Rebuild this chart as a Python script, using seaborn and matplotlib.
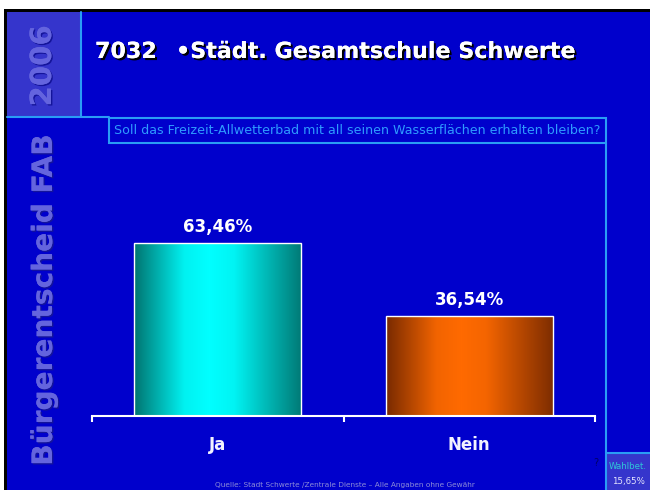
import numpy as np
import matplotlib
matplotlib.use("Agg")
import matplotlib.pyplot as plt
import matplotlib.patheffects as pe
from matplotlib.patches import Rectangle
from matplotlib.colors import LinearSegmentedColormap
import seaborn as sns

# data
categories = ["Ja", "Nein"]
values = [63.46, 36.54]
title_number = "7032"
title_text = "•Städt. Gesamtschule Schwerte"
question = "Soll das Freizeit-Allwetterbad mit all seinen Wasserflächen erhalten bleiben?"
side_year = "2006"
side_label = "Bürgerentscheid FAB"
turnout_label = "Wahlbet."
turnout_value = "15,65%"
source_note = "Quelle: Stadt Schwerte /Zentrale Dienste – Alle Angaben ohne Gewähr"

bar_dark = ["#007470", "#782a00"]
bar_light = ["#00ffff", "#ff6a00"]

BLUE = "#0000cc"
PANEL = "#3535cc"
LINE = "#2a9cf5"

sns.set_theme(style="white")
plt.rcParams["font.family"] = ["DejaVu Sans"]

fig = plt.figure(figsize=(6.5, 4.9), dpi=100)
fig.patch.set_facecolor("white")

# slide background drawn in pixel coordinates
bg = fig.add_axes([0, 0, 1, 1], zorder=0)
bg.set_xlim(0, 650)
bg.set_ylim(490, 0)
bg.axis("off")
bg.add_patch(Rectangle((4, 9), 646, 481, facecolor="black", edgecolor="none"))
bg.add_patch(Rectangle((7, 12), 643, 478, facecolor=BLUE, edgecolor="none"))
bg.add_patch(Rectangle((7, 12), 73, 105, facecolor=PANEL, edgecolor="none"))
bg.plot([80.5, 80.5], [12, 117.5], color=LINE, lw=1.5)
bg.plot([7, 109], [117.5, 117.5], color=LINE, lw=1.5)
bg.add_patch(Rectangle((109, 117.5), 497, 25.5, facecolor=BLUE, edgecolor=LINE, lw=1.5))
bg.plot([606, 606], [143, 453], color=LINE, lw=1.5)
bg.add_patch(Rectangle((606, 453), 44, 37, facecolor=PANEL, edgecolor="none"))
bg.plot([606, 650], [453, 453], color=LINE, lw=1.5)
bg.plot([606, 606], [453, 490], color=LINE, lw=1.5)

emboss = [pe.withSimplePatchShadow(offset=(1, -1), shadow_rgbFace="#14149a", alpha=1.0),
          pe.Normal()]
bg.text(43, 66, side_year, rotation=90, ha="center", va="center", fontsize=21,
        fontweight="bold", color="#6464de", path_effects=emboss)
bg.text(44, 300, side_label, rotation=90, ha="center", va="center", fontsize=20.2,
        fontweight="bold", color="#6464de", path_effects=emboss)

shadow = [pe.withSimplePatchShadow(offset=(1.5, -1.5), shadow_rgbFace="black", alpha=1.0),
          pe.Normal()]
bg.text(95, 58, title_number, ha="left", va="baseline", fontsize=16,
        fontweight="bold", color="white", path_effects=shadow)
bg.text(176, 58, title_text, ha="left", va="baseline", fontsize=16,
        fontweight="bold", color="white", path_effects=shadow)
bg.text(357, 130.5, question, ha="center", va="center", fontsize=9.1,
        color="#2f9bff")
bg.text(628, 466, turnout_label, ha="center", va="center", fontsize=6.2, color="#2fc8d8")
bg.text(628, 481, turnout_value, ha="center", va="center", fontsize=6.2, color="#e6e6ff")
bg.text(596, 463, "?", ha="center", va="center", fontsize=7, color="#000066")
bg.text(345, 485, source_note, ha="center", va="center", fontsize=5.3, color="#8c8cd8")

# chart
ax = fig.add_axes([92 / 650, 1 - 415.5 / 490, 503 / 650, 271.8 / 490], zorder=1)
ax.set_facecolor("none")
sns.barplot(x=categories, y=values, hue=categories, palette=bar_light, legend=False,
            width=0.663, edgecolor="white", linewidth=1, ax=ax)

# horizontal gradient fill, clipped to each bar
t = np.linspace(0, 1, 256)
profile = np.interp(t, [0, 0.3, 0.45, 0.6, 1], [0, 0.9, 1, 0.92, 0.05])
for patch, dark, light in zip(ax.patches, bar_dark, bar_light):
    x0, y0 = patch.get_x(), patch.get_y()
    w, h = patch.get_width(), patch.get_height()
    cmap = LinearSegmentedColormap.from_list("g", [dark, light])
    im = ax.imshow(profile[np.newaxis, :], cmap=cmap, vmin=0, vmax=1, aspect="auto",
                   extent=[x0, x0 + w, y0, y0 + h], zorder=2)
    im.set_clip_path(patch)
    patch.set_facecolor("none")
    patch.set_zorder(3)

labels = [f"{v:.2f}".replace(".", ",") + "%" for v in values]
for container, lab in zip(ax.containers, labels):
    ax.bar_label(container, labels=[lab], padding=5, fontsize=12,
                 fontweight="bold", color="white")

ax.set_xlim(-0.5, 1.5)
ax.set_ylim(0, 100)
for side in ["top", "left", "right"]:
    ax.spines[side].set_visible(False)
ax.spines["bottom"].set_color("white")
ax.spines["bottom"].set_linewidth(1.5)
ax.set_yticks([])
ax.set_xticks([0, 1])
ax.set_xticklabels(categories, fontsize=12, fontweight="bold", color="#f2f2ff")
ax.set_xticks([-0.5, 0.5, 1.5], minor=True)
ax.tick_params(axis="x", which="major", length=0, pad=15)
ax.tick_params(axis="x", which="minor", bottom=True, length=4.5, width=1.5,
               color="white", direction="out")
ax.set_xlabel("")
ax.set_ylabel("")

fig.savefig("out.png", dpi=100, facecolor=fig.get_facecolor())
